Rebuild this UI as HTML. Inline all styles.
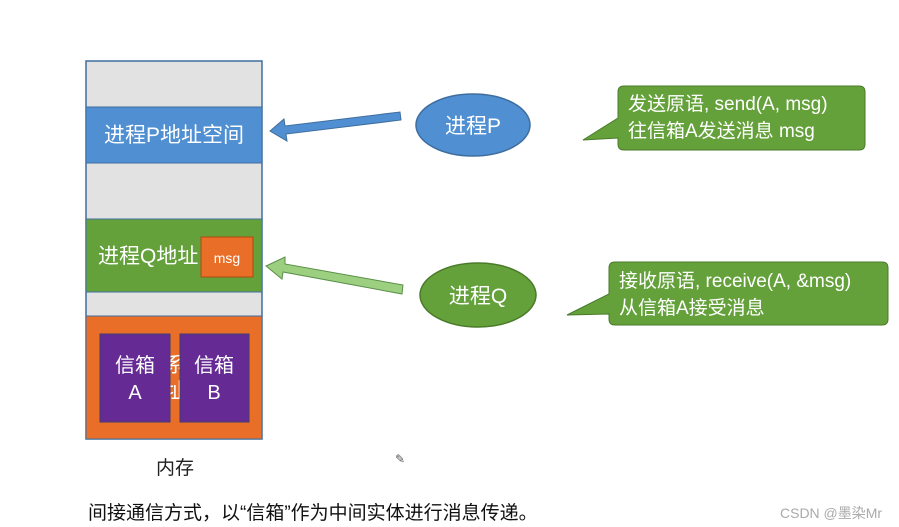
<!DOCTYPE html>
<html><head><meta charset="utf-8"><style>
body{margin:0;width:899px;height:527px;background:#fff;overflow:hidden;font-family:"Liberation Sans","Noto Sans CJK SC",sans-serif;}
</style></head><body>
<svg width="899" height="527" xmlns="http://www.w3.org/2000/svg" style="position:absolute;left:0;top:0;font-family:'Liberation Sans','Noto Sans CJK SC',sans-serif">
<rect x="86" y="61" width="176" height="378" fill="#e3e2e2" stroke="#3f6e9e" stroke-width="1.5"/>
<rect x="86" y="107" width="176" height="56" fill="#4f8fd2" stroke="#3f6e9e"/>
<rect x="86" y="219" width="176" height="73" fill="#64a13b" stroke="#3f6e9e"/>
<rect x="86" y="316" width="176" height="123" fill="#e96e28" stroke="#3f6e9e"/>
<text x="174" y="142" font-size="21" fill="#fff" text-anchor="middle">进程P地址空间</text>
<text x="98" y="263" font-size="21" fill="#fff">进程Q地址</text>
<rect x="201" y="237" width="52" height="40" fill="#e96e28" stroke="#b04a10"/>
<text x="227" y="263" font-size="14" fill="#fff" text-anchor="middle">msg</text>
<text x="165" y="372" font-size="21" fill="#fff">系统</text>
<text x="165" y="398" font-size="21" fill="#fff">址</text>
<rect x="100" y="334" width="70" height="88" fill="#652a94" stroke="#3f3f6e"/>
<rect x="180" y="334" width="69" height="88" fill="#652a94" stroke="#3f3f6e"/>
<text x="135" y="372" font-size="20" fill="#fff" text-anchor="middle">信箱</text>
<text x="135" y="399" font-size="20" fill="#fff" text-anchor="middle">A</text>
<text x="214" y="372" font-size="20" fill="#fff" text-anchor="middle">信箱</text>
<text x="214" y="399" font-size="20" fill="#fff" text-anchor="middle">B</text>
<polygon points="400,112 401,120 286,134 287,141 270,131 284,119 285,126" fill="#4f8fd2" stroke="#3f6e9e"/>
<polygon points="403,285 402,294 283,272 282,279 266,266 285,257 285,264" fill="#9dcf80" stroke="#5a8f48"/>
<ellipse cx="473" cy="125" rx="57" ry="31" fill="#4f8fd2" stroke="#3f6e9e" stroke-width="1.5"/>
<text x="473" y="133" font-size="21" fill="#fff" text-anchor="middle">进程P</text>
<ellipse cx="478" cy="295" rx="58" ry="32" fill="#64a13b" stroke="#4a7a2a" stroke-width="1.5"/>
<text x="478" y="303" font-size="21" fill="#fff" text-anchor="middle">进程Q</text>
<path d="M624,86 H859 Q865,86 865,92 V144 Q865,150 859,150 H624 Q618,150 618,144 V138 L583,140 L618,118 V92 Q618,86 624,86 Z" fill="#64a13b" stroke="#4a7a2a"/>
<text x="628" y="110" font-size="19" fill="#fff">发送原语, send(A, msg)</text>
<text x="628" y="137" font-size="19" fill="#fff">往信箱A发送消息 msg</text>
<path d="M615,262 H882 Q888,262 888,268 V319 Q888,325 882,325 H615 Q609,325 609,319 V314 L567,315 L609,294 V268 Q609,262 615,262 Z" fill="#64a13b" stroke="#4a7a2a"/>
<text x="619" y="287" font-size="19" fill="#fff">接收原语, receive(A, &amp;msg)</text>
<text x="619" y="314" font-size="19" fill="#fff">从信箱A接受消息</text>
<text x="175" y="474" font-size="19" fill="#222" text-anchor="middle">内存</text>
<text x="395" y="463" font-size="12" fill="#555">✎</text>
<text x="88" y="519" font-size="19" fill="#111">间接通信方式，以“信箱”作为中间实体进行消息传递。</text>
<text x="780" y="518" font-size="14" fill="#aaa">CSDN @墨染Mr</text>
</svg>
</body></html>
